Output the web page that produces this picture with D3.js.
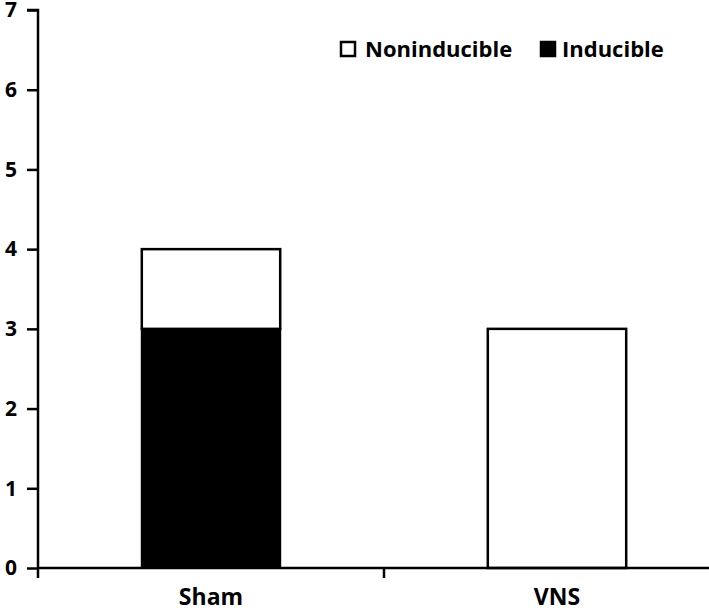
<!DOCTYPE html>
<html><head><meta charset="utf-8">
<script src="https://cdn.jsdelivr.net/npm/d3@7"></script>
<style>body{margin:0;background:#fff}svg{display:block}text{font-family:"Open Sans",Lato,sans-serif;font-weight:bold}</style>
</head><body><svg id="c" width="709" height="610"></svg>
<script>
const categories = ["Sham", "VNS"];
const inducible = [3, 0];
const noninducible = [1, 3];
const yTicks = [0, 1, 2, 3, 4, 5, 6, 7];
const seriesNames = ["Noninducible", "Inducible"];
const seriesColors = ["#ffffff", "#000000"];

const svg = d3.select("#c");
const x0 = 38, y0 = 568, yTop = 10;
const x = d3.scaleBand().domain(categories).range([x0, x0 + 2 * 346]).padding(0);
const y = d3.scaleLinear().domain([0, 7]).range([y0, yTop]);
const bw = x.bandwidth() * 0.4;

const data = categories.map((c, i) => ({c, ind: inducible[i], non: noninducible[i]}));

data.forEach(d => {
  const cx = x(d.c) + x.bandwidth() / 2;
  if (d.ind > 0) {
    svg.append("rect").attr("x", cx - bw / 2).attr("y", y(d.ind)).attr("width", bw)
      .attr("height", y(0) - y(d.ind)).attr("fill", seriesColors[1]).attr("stroke", "#000").attr("stroke-width", 2);
  }
  if (d.non > 0) {
    svg.append("rect").attr("x", cx - bw / 2).attr("y", y(d.ind + d.non)).attr("width", bw)
      .attr("height", y(d.ind) - y(d.ind + d.non)).attr("fill", seriesColors[0]).attr("stroke", "#000").attr("stroke-width", 2.5);
  }
});

// y axis
const yAxis = d3.axisLeft(y).tickValues(yTicks).tickSize(11).tickPadding(10).tickFormat(d3.format("d"));
const gy = svg.append("g").attr("transform", `translate(${x0},0)`).call(yAxis);
gy.select(".domain").attr("stroke-width", 2.5).attr("d", `M-11,${yTop}H0V${y0}`);
gy.selectAll(".tick line").attr("stroke-width", 2.5);
gy.selectAll(".tick text").attr("font-size", 21).attr("fill", "#000").attr("font-family", "Open Sans");

// x axis
const gx = svg.append("g").attr("transform", `translate(0,${y0})`);
gx.append("line").attr("x1", x0).attr("x2", 709).attr("y1", 0).attr("y2", 0).attr("stroke", "#000").attr("stroke-width", 2.5);
[x0, x0 + x.bandwidth()].forEach(t => {
  gx.append("line").attr("x1", t).attr("x2", t).attr("y1", 0).attr("y2", 10).attr("stroke", "#000").attr("stroke-width", 2.5);
});
categories.forEach(c => {
  gx.append("text").attr("x", x(c) + x.bandwidth() / 2).attr("y", 37).attr("text-anchor", "middle")
    .attr("font-size", 23).text(c);
});

// legend
const leg = [{n: seriesNames[0], col: seriesColors[0], sx: 341, tx: 365}, {n: seriesNames[1], col: seriesColors[1], sx: 541, tx: 562}];
leg.forEach(l => {
  svg.append("rect").attr("x", l.sx).attr("y", 42).attr("width", 14).attr("height", 14)
    .attr("fill", l.col).attr("stroke", "#000").attr("stroke-width", 2.5);
  svg.append("text").attr("x", l.tx).attr("y", 57).attr("font-size", 22).text(l.n);
});
</script></body></html>
